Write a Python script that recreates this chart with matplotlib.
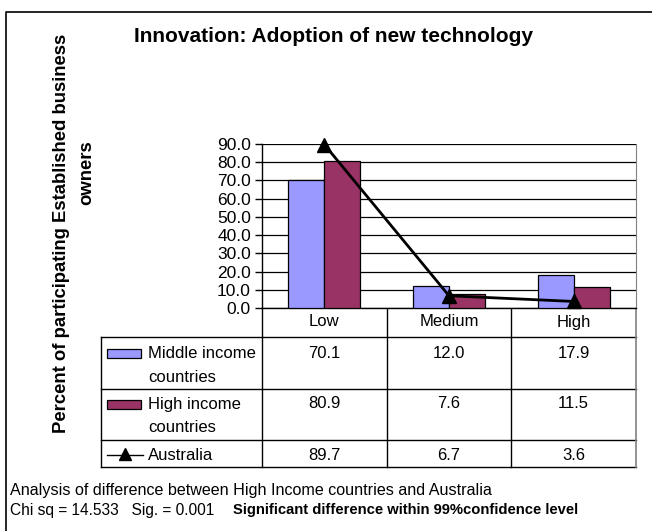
import matplotlib
matplotlib.use("Agg")
import matplotlib.pyplot as plt
from matplotlib.patches import Rectangle
from matplotlib.lines import Line2D
import numpy as np

plt.rcParams.update({
    "font.family": "Liberation Sans",
    "font.size": 12,
})

W, H = 652, 531

categories = ["Low", "Medium", "High"]
middle_income = [70.1, 12.0, 17.9]
high_income = [80.9, 7.6, 11.5]
australia = [89.7, 6.7, 3.6]
series_names = [["Middle income", "countries"], ["High income", "countries"], ["Australia"]]
y_ticks = [0, 10, 20, 30, 40, 50, 60, 70, 80, 90]

MID_COLOR = "#9999FF"
HIGH_COLOR = "#993366"

title = "Innovation: Adoption of new technology"
ylabel_main = "Percent of participating Established business"
ylabel_tail = "owners"
note_1 = "Analysis of difference between High Income countries and Australia"
note_2 = "Chi sq = 14.533   Sig. = 0.001"
note_3 = "Significant difference within 99%confidence level"

# layout in pixels (origin top-left)
PLOT_L, PLOT_R, PLOT_T, PLOT_B = 262, 636, 144, 308
TAB_L = 101
ROW_EDGES = [308, 337, 389, 440, 467]

fig = plt.figure(figsize=(W / 100, H / 100), dpi=100)

# background canvas for frame, table and notes
bg = fig.add_axes([0, 0, 1, 1])
bg.set_xlim(0, W)
bg.set_ylim(H, 0)
bg.axis("off")

bg.plot([6, 6, W], [H, 12, 12], color="black", lw=1.2)

# main chart
ax = fig.add_axes([PLOT_L / W, 1 - PLOT_B / H,
                   (PLOT_R - PLOT_L) / W, (PLOT_B - PLOT_T) / H])
x = np.arange(len(categories))
bw = 0.288
ax.bar(x - bw / 2, middle_income, bw, color=MID_COLOR, edgecolor="black",
       linewidth=0.9, zorder=3)
ax.bar(x + bw / 2, high_income, bw, color=HIGH_COLOR, edgecolor="black",
       linewidth=0.9, zorder=3)
ax.plot(x, australia, color="black", lw=2, marker="^", ms=10, zorder=4,
        clip_on=False)

ax.set_xlim(-0.5, len(categories) - 0.5)
ax.set_ylim(0, 90)
ax.set_yticks(y_ticks)
ax.set_yticklabels([f"{v:.1f}" for v in y_ticks], fontsize=12.5)
ax.set_xticks([])
ax.yaxis.grid(True, color="black", lw=0.9)
ax.set_axisbelow(True)
ax.tick_params(axis="y", direction="out", length=5, width=1, pad=3)
ax.spines["top"].set_visible(False)
ax.spines["right"].set_color("#808080")
ax.spines["left"].set_linewidth(1)
ax.spines["bottom"].set_linewidth(1)

# data table under the chart
col_w = (PLOT_R - PLOT_L) / len(categories)
col_edges = [PLOT_L + i * col_w for i in range(len(categories) + 1)]
col_centers = [PLOT_L + (i + 0.5) * col_w for i in range(len(categories))]

for y in ROW_EDGES[1:]:
    bg.plot([TAB_L, PLOT_R], [y, y], color="black", lw=1)
bg.plot([TAB_L, TAB_L], [ROW_EDGES[1], ROW_EDGES[-1]], color="black", lw=1)
for cx in col_edges[:-1]:
    bg.plot([cx, cx], [ROW_EDGES[0], ROW_EDGES[-1]], color="black", lw=1)
bg.plot([PLOT_R, PLOT_R], [ROW_EDGES[0], ROW_EDGES[-1]], color="#808080", lw=1.2)

for cx, cat in zip(col_centers, categories):
    bg.text(cx, 322, cat, ha="center", va="center", fontsize=12)

row_first = [353, 404, 455]
line_gap = 24
for r, (name, vals) in enumerate(zip(series_names,
                                     [middle_income, high_income, australia])):
    y0 = row_first[r]
    for j, part in enumerate(name):
        bg.text(148, y0 + j * line_gap, part, ha="left", va="center", fontsize=12)
    for cx, v in zip(col_centers, vals):
        bg.text(cx, y0, f"{v:.1f}", ha="center", va="center", fontsize=12)

for color, y0 in [(MID_COLOR, row_first[0]), (HIGH_COLOR, row_first[1])]:
    bg.add_patch(Rectangle((107, y0 - 4.5), 34, 9, facecolor=color,
                           edgecolor="black", lw=0.9))
bg.add_line(Line2D([107, 143], [row_first[2], row_first[2]], color="black", lw=1))
bg.plot([125], [row_first[2] - 1], marker="^", color="black", ms=8)

# titles and notes
bg.text(334, 37, title, ha="center", va="center", fontsize=15,
        fontweight="bold")
bg.text(62, 233, ylabel_main, ha="center", va="center", rotation=90,
        fontsize=13.3, fontweight="bold")
bg.text(87, 173, ylabel_tail, ha="center", va="center", rotation=90,
        fontsize=13.3, fontweight="bold")

bg.text(10, 491, note_1, ha="left", va="center", fontsize=11.6)
bg.text(10, 510, note_2, ha="left", va="center", fontsize=11.2)
bg.text(233, 510, note_3, ha="left", va="center", fontsize=10.6,
        fontweight="bold")

fig.savefig("out.png", dpi=100)
